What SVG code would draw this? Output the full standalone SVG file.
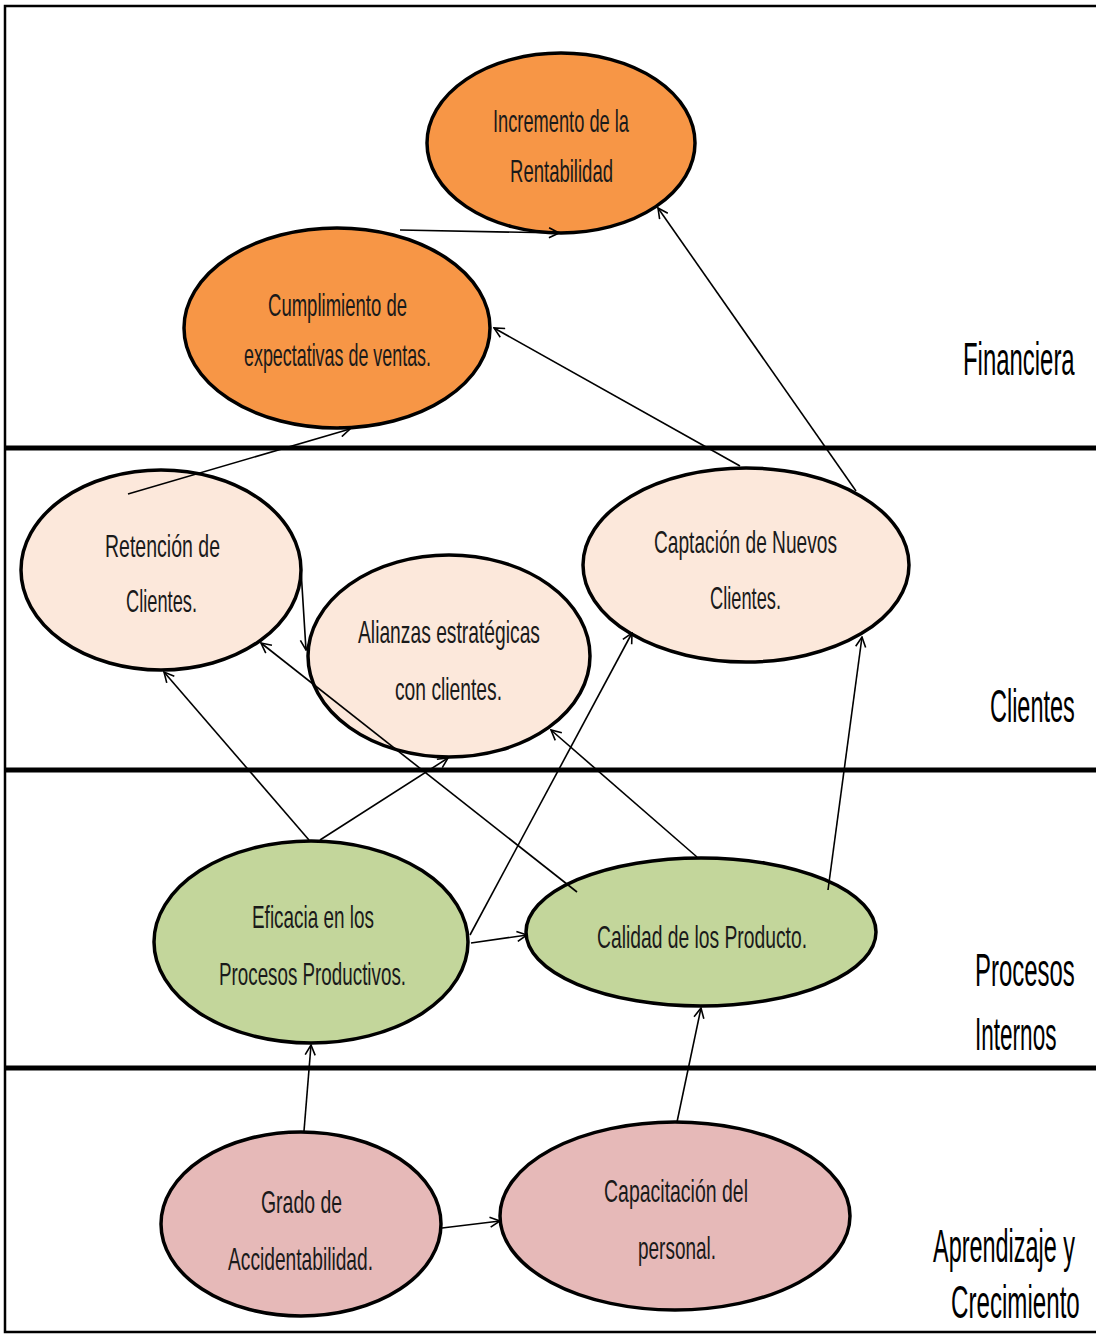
<svg xmlns="http://www.w3.org/2000/svg" width="1096" height="1334" viewBox="0 0 1096 1334">
  <style>
    .node { stroke: #000; stroke-width: 3.5; }
    .fin { fill: #F79646; }
    .cli { fill: #FCE8DB; }
    .pro { fill: #C3D69B; }
    .apr { fill: #E6B9B8; }
    .lbl { font-family: "Liberation Sans", Arial, sans-serif; font-size: 32px; fill: #1a1a1a; }
    .zone { font-family: "Liberation Sans", Arial, sans-serif; font-size: 46px; fill: #000; }
    .divider { stroke: #000; stroke-width: 5; }
    .edge { stroke: #000; stroke-width: 1.6; fill: none; marker-end: url(#arrow); }
  </style>
  <defs>
    <marker id="arrow" viewBox="0 0 12 12" refX="11" refY="6" markerWidth="12" markerHeight="12" markerUnits="userSpaceOnUse" orient="auto">
      <path d="M1,1 L11,6 L1,11" fill="none" stroke="#000" stroke-width="1.6"/>
    </marker>
  </defs>

  <rect x="0" y="0" width="1096" height="1334" fill="#fff"/>
  <!-- frame and perspective dividers -->
  <rect x="5" y="6" width="1100" height="1326" fill="none" stroke="#000" stroke-width="2.5"/>
  <g id="dividers">
    <line class="divider" x1="6" y1="448" x2="1096" y2="448"/>
    <line class="divider" x1="6" y1="770" x2="1096" y2="770"/>
    <line class="divider" x1="6" y1="1068" x2="1096" y2="1068"/>
  </g>

  <!-- perspective titles (condensed by horizontal scaling) -->
  <g id="zones">
    <text class="zone" transform="translate(963,375) scale(0.52,1)">Financiera</text>
    <text class="zone" transform="translate(990,722) scale(0.51,1)">Clientes</text>
    <text class="zone" transform="translate(975,986) scale(0.52,1)">Procesos</text>
    <text class="zone" transform="translate(975,1050) scale(0.49,1)">Internos</text>
    <text class="zone" transform="translate(933,1262) scale(0.51,1)">Aprendizaje y</text>
    <text class="zone" transform="translate(951,1318) scale(0.525,1)">Crecimiento</text>
  </g>

  <!-- nodes -->
  <g id="incremento">
    <ellipse class="node fin" cx="561" cy="143" rx="134" ry="90"/>
    <text class="lbl" x="493" y="132" textLength="136" lengthAdjust="spacingAndGlyphs">Incremento de la</text>
    <text class="lbl" x="510" y="182" textLength="103" lengthAdjust="spacingAndGlyphs">Rentabilidad</text>
  </g>
  <g id="cumplimiento">
    <ellipse class="node fin" cx="337" cy="328" rx="153" ry="100"/>
    <text class="lbl" x="268" y="316" textLength="139" lengthAdjust="spacingAndGlyphs">Cumplimiento de</text>
    <text class="lbl" x="244" y="366" textLength="187" lengthAdjust="spacingAndGlyphs">expectativas de ventas.</text>
  </g>
  <g id="retencion">
    <ellipse class="node cli" cx="161" cy="570" rx="140" ry="100"/>
    <text class="lbl" x="105" y="557" textLength="115" lengthAdjust="spacingAndGlyphs">Retención  de</text>
    <text class="lbl" x="126" y="612" textLength="71" lengthAdjust="spacingAndGlyphs">Clientes.</text>
  </g>
  <g id="alianzas">
    <ellipse class="node cli" cx="449" cy="656" rx="141" ry="101"/>
    <text class="lbl" x="358" y="643" textLength="182" lengthAdjust="spacingAndGlyphs">Alianzas estratégicas</text>
    <text class="lbl" x="395" y="700" textLength="107" lengthAdjust="spacingAndGlyphs">con  clientes.</text>
  </g>
  <g id="captacion">
    <ellipse class="node cli" cx="746" cy="565" rx="163" ry="97"/>
    <text class="lbl" x="654" y="553" textLength="183" lengthAdjust="spacingAndGlyphs">Captación  de Nuevos</text>
    <text class="lbl" x="710" y="609" textLength="71" lengthAdjust="spacingAndGlyphs">Clientes.</text>
  </g>
  <g id="eficacia">
    <ellipse class="node pro" cx="311" cy="942" rx="157" ry="101"/>
    <text class="lbl" x="252" y="928" textLength="122" lengthAdjust="spacingAndGlyphs">Eficacia  en los</text>
    <text class="lbl" x="219" y="985" textLength="187" lengthAdjust="spacingAndGlyphs">Procesos  Productivos.</text>
  </g>
  <g id="calidad">
    <ellipse class="node pro" cx="701" cy="932" rx="175" ry="74"/>
    <text class="lbl" x="597" y="948" textLength="210" lengthAdjust="spacingAndGlyphs">Calidad  de los Producto.</text>
  </g>
  <g id="grado">
    <ellipse class="node apr" cx="301" cy="1224" rx="140" ry="92"/>
    <text class="lbl" x="261" y="1213" textLength="81" lengthAdjust="spacingAndGlyphs">Grado de</text>
    <text class="lbl" x="228" y="1270" textLength="145" lengthAdjust="spacingAndGlyphs">Accidentabilidad.</text>
  </g>
  <g id="capacitacion">
    <ellipse class="node apr" cx="675" cy="1216" rx="175" ry="94"/>
    <text class="lbl" x="604" y="1202" textLength="144" lengthAdjust="spacingAndGlyphs">Capacitación  del</text>
    <text class="lbl" x="638" y="1259" textLength="78" lengthAdjust="spacingAndGlyphs">personal.</text>
  </g>

  <!-- cause-effect connectors -->
  <g id="connectors">
    <line class="edge" x1="400" y1="230" x2="559" y2="233"/>
    <line class="edge" x1="740" y1="466" x2="494" y2="328"/>
    <line class="edge" x1="856" y1="491" x2="658" y2="208"/>
    <line class="edge" x1="128" y1="494" x2="350" y2="429"/>
    <line class="edge" x1="301" y1="570" x2="306" y2="650"/>
    <line class="edge" x1="309" y1="840" x2="164" y2="672"/>
    <line class="edge" x1="320" y1="840" x2="448" y2="758"/>
    <line class="edge" x1="577" y1="892" x2="261" y2="643"/>
    <line class="edge" x1="470" y1="935" x2="632" y2="633"/>
    <line class="edge" x1="471" y1="943" x2="527" y2="935"/>
    <line class="edge" x1="697" y1="857" x2="551" y2="730"/>
    <line class="edge" x1="828" y1="890" x2="862" y2="637"/>
    <line class="edge" x1="304" y1="1131" x2="311" y2="1045"/>
    <line class="edge" x1="442" y1="1228" x2="500" y2="1221"/>
    <line class="edge" x1="677" y1="1122" x2="701" y2="1008"/>
  </g>
</svg>
